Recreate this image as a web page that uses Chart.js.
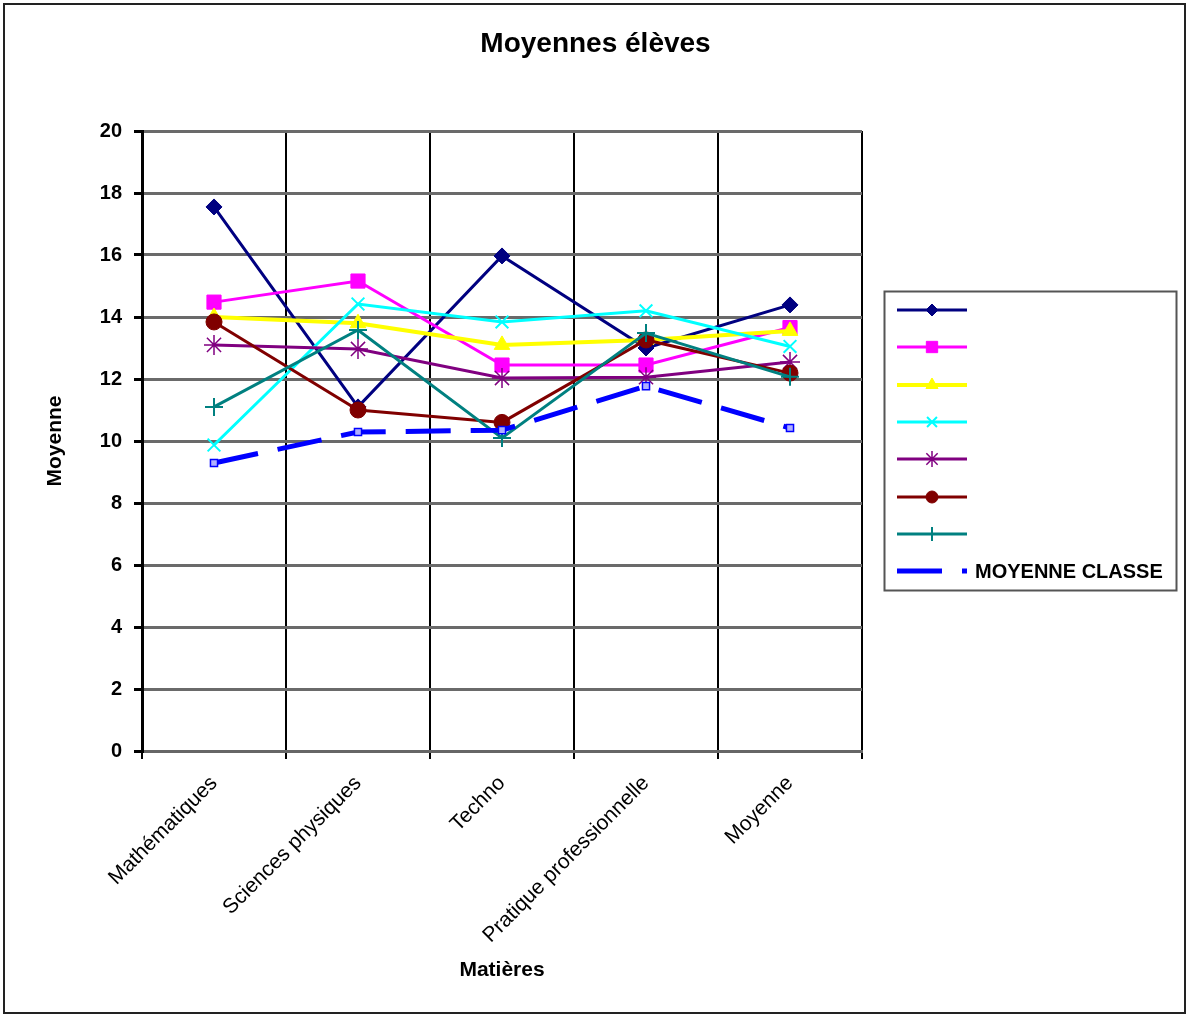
<!DOCTYPE html>
<html>
<head>
<meta charset="utf-8">
<title>Moyennes élèves</title>
<script src="https://cdn.jsdelivr.net/npm/chart.js@4/dist/chart.umd.min.js"></script>
<style>
  html, body { margin: 0; padding: 0; background: #ffffff; }
  #wrap { width: 1191px; height: 1016px; }
</style>
</head>
<body>
<div id="wrap"><canvas id="chart" width="1191" height="1016"></canvas></div>
<script>
// Subjects on the category axis
const categories = ['Mathématiques', 'Sciences physiques', 'Techno', 'Pratique professionnelle', 'Moyenne'];

// Average mark of each student per subject (students are unnamed in the legend)
const eleve1 = [17.55, 11.1, 15.97, 13.0, 14.39];
const eleve2 = [14.48, 15.16, 12.45, 12.45, 13.66];
const eleve3 = [14.0, 13.8, 13.1, 13.26, 13.55];
const eleve4 = [9.87, 14.42, 13.84, 14.2, 13.05];
const eleve5 = [13.1, 12.97, 12.03, 12.06, 12.55];
const eleve6 = [13.84, 11.0, 10.6, 13.26, 12.19];
const eleve7 = [11.1, 13.58, 10.1, 13.48, 12.07];
const moyenneClasse = [9.29, 10.29, 10.35, 11.77, 10.42];

// Value axis
const yMin = 0;
const yMax = 20;
const yStep = 2;

const FONT = '"Liberation Sans", Arial, sans-serif';

function serie(label, data, color, style, radius, extra) {
  return Object.assign({
    label: label,
    data: data,
    yAxisID: 'y',
    borderColor: color,
    backgroundColor: color,
    borderWidth: 3,
    tension: 0,
    pointStyle: style,
    pointRadius: radius,
    pointHoverRadius: radius,
    pointBackgroundColor: color,
    pointBorderColor: color,
    pointBorderWidth: 1
  }, extra || {});
}

const datasets = [
  serie('', eleve1, '#000080', 'rectRot', 8),
  serie('', eleve2, '#ff00ff', 'rect', 10),
  serie('', eleve3, '#ffff00', 'triangle', 9, { borderWidth: 4 }),
  serie('', eleve4, '#00ffff', 'crossRot', 9, { pointBorderWidth: 2 }),
  serie('', eleve5, '#800080', 'star', 10, { pointBorderWidth: 1.5 }),
  serie('', eleve6, '#800000', 'circle', 8),
  serie('', eleve7, '#008080', 'cross', 9, { pointBorderWidth: 2 }),
  serie('MOYENNE CLASSE', moyenneClasse, '#0000ff', 'rect', 5, {
    borderWidth: 5,
    borderDash: [45, 20],
    pointBackgroundColor: '#b0b0ff',
    pointBorderColor: '#0000ff',
    pointBorderWidth: 1.5
  })
];
// later series are painted over earlier ones
datasets.forEach((d, i) => { d.order = datasets.length - i; });

// Outer frame of the chart
const chartFrame = {
  id: 'chartFrame',
  beforeDraw(chart) {
    const ctx = chart.ctx;
    ctx.save();
    ctx.fillStyle = '#ffffff';
    ctx.fillRect(0, 0, chart.width, chart.height);
    ctx.strokeStyle = '#222222';
    ctx.lineWidth = 2;
    ctx.strokeRect(4, 4, chart.width - 10, chart.height - 7);
    ctx.restore();
  }
};

// Boxed legend to the right of the plot: line sample + marker + label
const boxedLegend = {
  id: 'boxedLegend',
  afterDraw(chart) {
    const ctx = chart.ctx;
    const area = chart.chartArea;
    const left = area.right + 22.5;
    const top = area.top + 160.5;
    const width = 292;
    const height = 299;
    const rowStart = top + 18.5;
    const rowStep = 37.3;
    ctx.save();
    ctx.strokeStyle = '#555555';
    ctx.lineWidth = 2;
    ctx.strokeRect(left, top, width, height);
    chart.data.datasets.forEach((ds, i) => {
      const y = Math.round(rowStart + i * rowStep);
      const x1 = left + 12.5;
      const x2 = left + 82.5;
      ctx.save();
      ctx.strokeStyle = ds.borderColor;
      ctx.lineWidth = ds.borderWidth;
      ctx.setLineDash(ds.borderDash || []);
      ctx.beginPath();
      ctx.moveTo(x1, y);
      ctx.lineTo(x2, y);
      ctx.stroke();
      ctx.setLineDash([]);
      if (!ds.borderDash) {
        ctx.fillStyle = ds.pointBackgroundColor;
        ctx.strokeStyle = ds.pointBorderColor;
        ctx.lineWidth = ds.pointBorderWidth;
        Chart.helpers.drawPoint(ctx, {
          pointStyle: ds.pointStyle,
          radius: Math.max(5, ds.pointRadius - 2),
          rotation: 0,
          borderWidth: ds.pointBorderWidth
        }, (x1 + x2) / 2, y);
      }
      ctx.restore();
      if (ds.label) {
        ctx.fillStyle = '#000000';
        ctx.font = 'bold 20px ' + FONT;
        ctx.textAlign = 'left';
        ctx.textBaseline = 'middle';
        ctx.fillText(ds.label, x2 + 8, y + 1);
      }
    });
    ctx.restore();
  }
};

new Chart(document.getElementById('chart'), {
  type: 'line',
  data: { labels: categories, datasets: datasets },
  plugins: [chartFrame, boxedLegend],
  options: {
    responsive: false,
    devicePixelRatio: 1,
    animation: false,
    layout: { padding: 0 },
    plugins: {
      legend: { display: false },
      tooltip: { enabled: false },
      title: {
        display: true,
        text: 'Moyennes élèves',
        color: '#000000',
        font: { family: FONT, size: 28, weight: 'bold' },
        padding: { top: 27, bottom: 70.4 }
      }
    },
    scales: {
      x: {
        type: 'category',
        offset: true,
        afterFit(scale) { scale.height = 265; },
        grid: {
          offset: true,
          drawOnChartArea: true,
          color: (c) => (c.index === categories.length ? '#777777' : '#000000'),
          lineWidth: 2,
          tickLength: 8,
          tickColor: '#000000'
        },
        border: { display: true, color: '#666666', width: 3 },
        ticks: {
          autoSkip: false,
          maxRotation: 45,
          minRotation: 45,
          padding: 12,
          color: '#000000',
          font: { family: FONT, size: 21 }
        },
        title: {
          display: true,
          text: 'Matières',
          color: '#000000',
          font: { family: FONT, size: 21, weight: 'bold' },
          padding: { top: 0, bottom: 33 }
        }
      },
      y: {
        min: yMin,
        max: yMax,
        afterFit(scale) { scale.width = 142; },
        grid: {
          color: '#6a6a6a',
          lineWidth: 3,
          tickLength: 8,
          tickColor: '#000000'
        },
        border: { display: true, color: '#000000', width: 3 },
        ticks: {
          stepSize: yStep,
          padding: 12,
          color: '#000000',
          font: { family: FONT, size: 20, weight: 'bold' }
        },
        title: {
          display: true,
          text: 'Moyenne',
          color: '#000000',
          font: { family: FONT, size: 21, weight: 'bold' },
          padding: { top: 43, bottom: 0 }
        }
      },
      // empty right-hand axis that reserves the room taken by the legend
      legendSpace: {
        type: 'linear',
        position: 'right',
        min: yMin,
        max: yMax,
        afterFit(scale) { scale.width = 329; },
        grid: { display: false },
        border: { display: false },
        ticks: { display: false }
      }
    }
  }
});
</script>
</body>
</html>
